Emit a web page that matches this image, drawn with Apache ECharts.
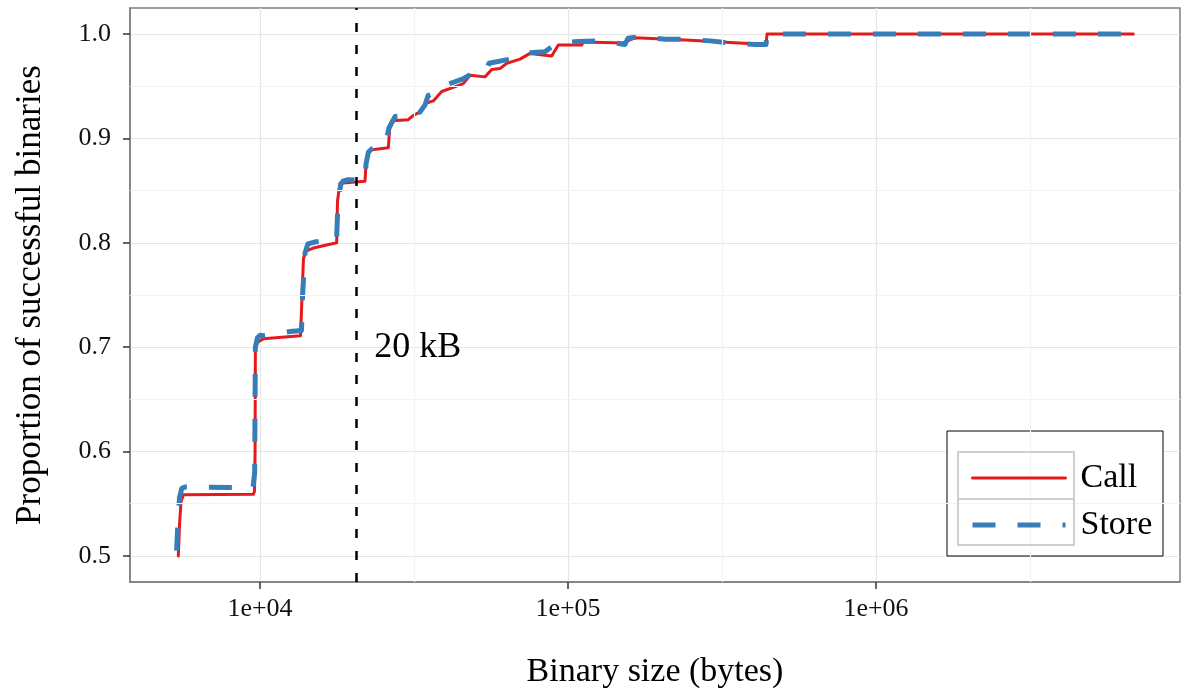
<!DOCTYPE html>
<html>
<head>
<meta charset="utf-8">
<script src="https://cdn.jsdelivr.net/npm/echarts@6/dist/echarts.min.js"></script>
<style>
  html, body { margin: 0; padding: 0; background: #ffffff; }
  #chart { width: 1182px; height: 689px; }
</style>
</head>
<body>
<div id="chart"></div>
<script>
// Cumulative proportion of successful binaries by binary size (bytes)
const callSize = [5430, 5480, 5540, 5640, 9510, 9600, 9640, 9660, 9850, 10250, 13540, 13700, 13840, 14100, 14890, 17740, 17850, 18180, 21920, 22090, 22400, 22760, 26100, 26420, 26760, 30300, 31460, 33070, 34770, 36530, 38900, 42430, 45710, 48070, 53770, 56540, 60160, 63240, 69870, 75260, 88530, 93010, 110800, 111900, 150900, 165100, 248900, 439500, 442800, 6845000];
const callProp = [0.500, 0.530, 0.552, 0.5585, 0.559, 0.562, 0.600, 0.700, 0.705, 0.708, 0.711, 0.750, 0.785, 0.792, 0.795, 0.800, 0.840, 0.857, 0.859, 0.875, 0.885, 0.889, 0.891, 0.913, 0.917, 0.918, 0.922, 0.9255, 0.934, 0.936, 0.945, 0.949, 0.9525, 0.9605, 0.959, 0.966, 0.967, 0.972, 0.976, 0.9815, 0.979, 0.9895, 0.9895, 0.9925, 0.9915, 0.9965, 0.994, 0.990, 1.000, 1.000];

const storeSize = [5360, 5420, 5480, 5570, 5700, 9490, 9610, 9660, 9810, 10000, 10250, 12520, 13640, 13750, 14000, 14310, 15200, 17720, 17920, 18300, 18600, 19310, 21900, 22100, 22500, 24160, 25660, 26230, 27440, 30230, 31000, 33000, 34330, 35120, 36530, 38900, 40780, 45610, 50650, 54170, 55410, 64820, 69870, 73600, 84200, 88720, 94190, 107800, 127000, 153100, 156600, 171300, 206500, 243400, 289100, 335700, 404700, 439500, 442800, 6580000];
const storeProp = [0.505, 0.535, 0.556, 0.5645, 0.566, 0.5655, 0.580, 0.700, 0.709, 0.7115, 0.711, 0.715, 0.716, 0.750, 0.790, 0.799, 0.801, 0.802, 0.840, 0.856, 0.859, 0.8605, 0.860, 0.876, 0.887, 0.896, 0.8965, 0.910, 0.921, 0.9225, 0.9255, 0.925, 0.932, 0.941, 0.943, 0.948, 0.952, 0.957, 0.965, 0.965, 0.972, 0.976, 0.981, 0.982, 0.983, 0.988, 0.991, 0.993, 0.9935, 0.990, 0.996, 0.9975, 0.995, 0.995, 0.9935, 0.9915, 0.990, 0.990, 1.000, 1.000];

const seriesNames = ['Call', 'Store'];
const sizeTicks = [1e4, 1e5, 1e6];
const sizeMinorTicks = [Math.pow(10, 4.5), Math.pow(10, 5.5), Math.pow(10, 6.5)];
const propTicks = [0.5, 0.6, 0.7, 0.8, 0.9, 1.0];
const propMinorTicks = [0.55, 0.65, 0.75, 0.85, 0.95];
const cutoffBytes = 20480;
const cutoffLabel = '20 kB';
const cutoffLabelAt = [23500, 0.7];

const FONT = 'Liberation Serif';
const CALL_COLOR = '#e41a1c';
const STORE_COLOR = '#377eb8';
const pairs = (xs, ys) => xs.map((x, i) => [x, ys[i]]);
const sciLabel = v => {
  const e = Math.round(Math.log10(v));
  return '1e+' + String(e).padStart(2, '0');
};

const chart = echarts.init(document.getElementById('chart'), null, { renderer: 'canvas' });

chart.setOption({
  animation: false,
  backgroundColor: '#ffffff',
  grid: {
    left: 130, right: 2, top: 8, bottom: 107,
    outerBoundsMode: 'none',
    containLabel: false,
    show: true, borderColor: '#7f7f7f', borderWidth: 1.5, backgroundColor: 'transparent'
  },
  xAxis: {
    type: 'log',
    logBase: 10,
    min: 3784,
    max: 9705000,
    name: 'Binary size (bytes)',
    nameLocation: 'middle',
    nameGap: 73,
    nameTextStyle: { fontFamily: FONT, fontSize: 34, color: '#000' },
    axisLine: { show: true, lineStyle: { color: '#7f7f7f', width: 1.5 } },
    axisTick: { show: true, length: 7, customValues: sizeTicks, lineStyle: { color: '#333', width: 1.5 } },
    axisLabel: {
      customValues: sizeTicks, margin: 14,
      fontFamily: FONT, fontSize: 26, color: '#111',
      formatter: sciLabel
    },
    splitLine: { show: true, lineStyle: { color: '#e6e6e6', width: 1.2 } },
    minorSplitLine: { show: false }
  },
  yAxis: {
    type: 'value',
    min: 0.475,
    max: 1.025,
    name: 'Proportion of successful binaries',
    nameLocation: 'middle',
    nameGap: 82,
    nameTextStyle: { fontFamily: FONT, fontSize: 35, color: '#000' },
    axisLine: { show: true, lineStyle: { color: '#7f7f7f', width: 1.5 } },
    axisTick: { show: true, length: 7, customValues: propTicks, lineStyle: { color: '#333', width: 1.5 } },
    axisLabel: {
      customValues: propTicks, margin: 19,
      fontFamily: FONT, fontSize: 26, color: '#111',
      formatter: v => v.toFixed(1)
    },
    splitLine: { show: true, lineStyle: { color: '#e6e6e6', width: 1.2 } }
  },
  legend: {
    data: [
      { name: seriesNames[0], itemStyle: { opacity: 0 }, lineStyle: { width: 3, color: CALL_COLOR } },
      { name: seriesNames[1], itemStyle: { opacity: 0 }, lineStyle: { width: 5, color: STORE_COLOR, type: [23, 22] } }
    ],
    orient: 'vertical',
    left: 970,
    top: 461,
    padding: 0,
    itemWidth: 93,
    itemHeight: 40,
    itemGap: 13,
    z: 10,
    selectedMode: false,
    textStyle: { fontFamily: FONT, fontSize: 34, color: '#000', padding: [0, 0, 0, 10] }
  },
  graphic: [
    { type: 'rect', z: 5, shape: { x: 947, y: 431, width: 216, height: 125 },
      style: { fill: '#ffffff', stroke: '#000000', lineWidth: 1 } },
    { type: 'rect', z: 6, shape: { x: 958, y: 452, width: 116, height: 47 },
      style: { fill: 'none', stroke: '#cfcfcf', lineWidth: 2 } },
    { type: 'rect', z: 6, shape: { x: 958, y: 499, width: 116, height: 46 },
      style: { fill: 'none', stroke: '#cfcfcf', lineWidth: 2 } }
  ],
  series: [
    {
      name: 'minor-grid',
      type: 'line',
      z: 1,
      data: [],
      silent: true,
      markLine: {
        silent: true,
        symbol: 'none',
        label: { show: false },
        lineStyle: { color: '#f3f3f3', width: 1.2, type: 'solid' },
        data: sizeMinorTicks.map(v => ({ xAxis: v }))
          .concat(propMinorTicks.map(v => ({ yAxis: v })))
      }
    },
    {
      name: 'Call',
      type: 'line',
      z: 2,
      data: pairs(callSize, callProp),
      showSymbol: false,
      symbol: 'none',
      itemStyle: { color: CALL_COLOR },
      lineStyle: { color: CALL_COLOR, width: 3, join: 'round', cap: 'round' }
    },
    {
      name: 'Store',
      type: 'line',
      z: 3,
      data: pairs(storeSize, storeProp),
      showSymbol: false,
      symbol: 'none',
      itemStyle: { color: STORE_COLOR },
      lineStyle: { color: STORE_COLOR, width: 5, type: [23, 22], join: 'round' }
    },
    {
      name: 'cutoff',
      type: 'line',
      z: 4,
      data: [],
      silent: true,
      markLine: {
        silent: true,
        symbol: 'none',
        label: { show: false },
        lineStyle: { color: '#000000', width: 2.5, type: [9, 13] },
        data: [{ xAxis: cutoffBytes }]
      },
      markPoint: {
        silent: true,
        symbol: 'circle',
        symbolSize: 0,
        label: {
          show: true, position: 'inside', align: 'left', verticalAlign: 'middle',
          fontFamily: FONT, fontSize: 36, color: '#000',
          formatter: cutoffLabel
        },
        data: [{ coord: cutoffLabelAt }]
      }
    }
  ]
});
</script>
</body>
</html>
